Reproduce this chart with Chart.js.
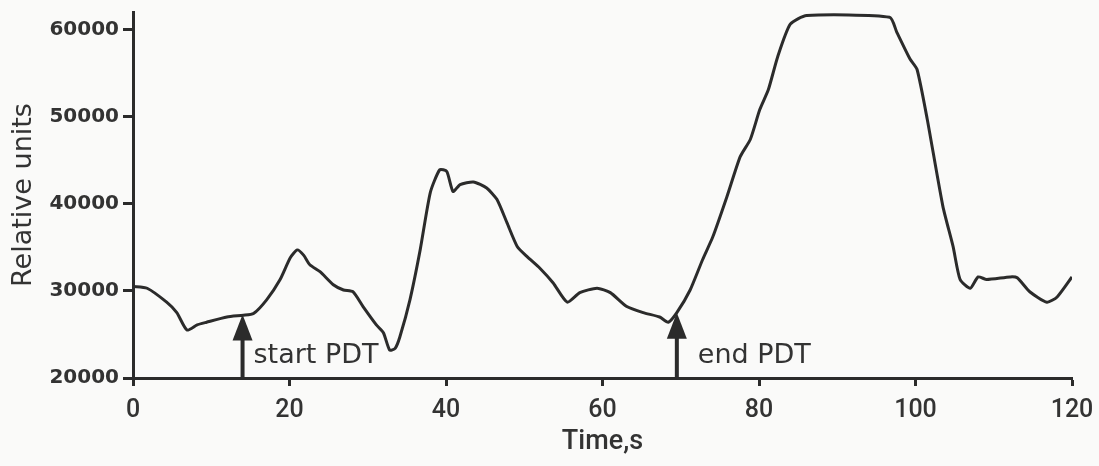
<!DOCTYPE html>
<html lang="en">
<head>
<meta charset="UTF-8">
<title>Relative units vs time</title>
<script src="https://cdn.jsdelivr.net/npm/chart.js"></script>
<style>
  html, body { margin: 0; padding: 0; background: #fafaf9; }
  #wrap { width: 1099px; height: 466px; position: relative; }
</style>
</head>
<body>
<div id="wrap"><canvas id="myChart"></canvas></div>
<script>
// time in seconds
const times = [0, 1.8, 4.3, 5.6, 6.9, 8.2, 9.4, 12, 14.1, 15.4, 17.1, 18.8, 20.1, 21, 21.8, 22.6, 23.9, 25.6, 26.9, 28.1, 29.4, 31.1, 32, 32.8, 33.5,
  34.1, 35.4, 36.7, 38, 39.2, 40.1, 40.9, 41.8, 43.5, 45.2, 46.5, 47.8, 49.1, 50.4, 52, 53.7, 55.5, 57.1, 59.3, 61, 63.1, 65.2, 67.3, 68.4, 69.5,
  71.2, 72.8, 74.1, 75.9, 77.6, 78.9, 80.1, 81.2, 82.4, 84, 86.1, 96.7, 97.6, 99.3, 100.2, 101.5, 103.5, 104.8, 105.7, 107, 108, 109.1, 112.1,
  113, 114.6, 116.8, 118.1, 120];
// relative units
const values = [30500, 30300, 28700, 27500, 25500, 26100, 26400, 27000, 27200, 27400, 29000, 31300, 33800, 34700, 34100, 33000, 32200, 30700, 30100, 29900, 28200, 26100, 25200, 23200, 23400,
  24700, 29000, 34700, 41300, 43900, 43700, 41400, 42200, 42500, 41800, 40500, 37800, 35100, 33900, 32600, 30900, 28700, 29800, 30300, 29800, 28200, 27500, 27000, 26400, 27500,
  30100, 33600, 36200, 40800, 45400, 47400, 50800, 53100, 56900, 60600, 61600, 61400, 59700, 56600, 55400, 49700, 39700, 35100, 31300, 30300, 31600, 31300, 31600,
  31500, 29900, 28700, 29300, 31600];

const xTicks = [0, 20, 40, 60, 80, 100, 120];
const yTicks = [20000, 30000, 40000, 50000, 60000];

// PDT markers
const markerTimes = [14, 69.5];
const markerTops = [27300, 27500];
const markerLabels = ['start PDT', 'end PDT'];

const ink = '#2b2b2b';

const markerPlugin = {
  id: 'markers',
  afterDatasetsDraw(chart) {
    const { ctx, scales: { x, y } } = chart;
    ctx.save();
    markerTimes.forEach((t, i) => {
      const px = x.getPixelForValue(t);
      const yBase = y.getPixelForValue(20000);
      const yTop = y.getPixelForValue(markerTops[i]);
      ctx.strokeStyle = ink;
      ctx.fillStyle = ink;
      ctx.lineWidth = 4;
      ctx.beginPath();
      ctx.moveTo(px, yBase);
      ctx.lineTo(px, yTop + 20);
      ctx.stroke();
      ctx.beginPath();
      ctx.moveTo(px, yTop);
      ctx.lineTo(px - 10, yTop + 26);
      ctx.lineTo(px + 10, yTop + 26);
      ctx.closePath();
      ctx.fill();
      ctx.font = '27px "DejaVu Sans", sans-serif';
      ctx.fillStyle = '#333';
      ctx.textBaseline = 'alphabetic';
      ctx.fillText(markerLabels[i], px + (i === 0 ? 11 : 21), 363);
    });
    ctx.restore();
  }
};

const ctx = document.getElementById('myChart').getContext('2d');
new Chart(ctx, {
  type: 'line',
  data: {
    datasets: [{
      data: times.map((t, i) => ({ x: t, y: values[i] })),
      borderColor: ink,
      borderWidth: 3,
      pointRadius: 0,
      tension: 0.2,
      fill: false
    }]
  },
  options: {
    responsive: true,
    maintainAspectRatio: false,
    animation: false,
    layout: { padding: { top: 12, right: 27, left: 0, bottom: 0 } },
    plugins: { legend: { display: false }, tooltip: { enabled: false } },
    scales: {
      x: {
        type: 'linear',
        min: 0,
        max: 120,
        afterBuildTicks: s => { s.ticks = xTicks.map(v => ({ value: v })); },
        afterFit: s => { s.height = 88; s.paddingLeft = 0; s.paddingRight = 0; },
        grid: { drawOnChartArea: false, drawTicks: true, tickLength: 8, tickWidth: 3, color: ink },
        border: { color: ink, width: 3 },
        ticks: { color: '#333', padding: 10, callback: v => String(v), font: { family: 'Roboto, sans-serif', size: 25, weight: '500' } },
        title: { display: true, text: 'Time,s', color: '#333', padding: { top: 0, bottom: 8 }, font: { family: 'Roboto, sans-serif', size: 27, weight: '500' } }
      },
      y: {
        min: 20000,
        max: 62000,
        afterBuildTicks: s => { s.ticks = yTicks.map(v => ({ value: v })); },
        afterFit: s => { s.width = 133; s.paddingTop = 0; s.paddingBottom = 0; },
        grid: { drawOnChartArea: false, drawTicks: true, tickLength: 10, tickWidth: 3, color: ink },
        border: { color: ink, width: 3 },
        ticks: { color: '#333', padding: 4, callback: v => String(v), font: { family: '"DejaVu Sans", sans-serif', size: 20, weight: 'bold' } },
        title: { display: true, text: 'Relative units', color: '#333', padding: { top: 8, bottom: 0 }, font: { family: '"DejaVu Sans", sans-serif', size: 27 } }
      }
    }
  },
  plugins: [markerPlugin]
});
</script>
</body>
</html>
